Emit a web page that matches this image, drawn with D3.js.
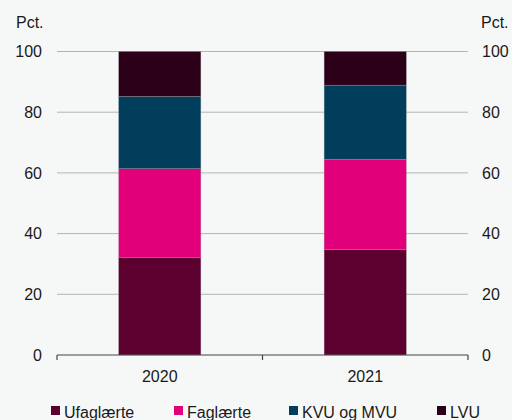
<!DOCTYPE html>
<html>
<head>
<meta charset="utf-8">
<script src="https://cdn.jsdelivr.net/npm/d3@7"></script>
<style>
  body { margin: 0; background: #f6f8f8; }
  text { font-family: "Liberation Sans", Arial, sans-serif; fill: #1a1a1a; }
</style>
</head>
<body>
<div id="chart"></div>
<script>
// data
var years = ["2020", "2021"];
var groups = ["Ufaglærte", "Faglærte", "KVU og MVU", "LVU"];
var ufaglaerte = [32.2, 34.7];
var faglaerte = [29.2, 29.8];
var kvuMvu = [23.8, 24.4];
var lvu = [14.8, 11.1];
var yTicks = [0, 20, 40, 60, 80, 100];
var colors = ["#5c0030", "#e2007a", "#003e5c", "#2c0019"];

var totalW = 512, totalH = 420;
var margin = {top: 51.5, right: 44, bottom: 65, left: 57},
    width = totalW - margin.left - margin.right,
    height = totalH - margin.top - margin.bottom;

var svg = d3.select("#chart").append("svg")
    .attr("width", totalW)
    .attr("height", totalH)
    .style("background-color", "#f6f8f8");

var g = svg.append("g")
    .attr("transform", "translate(" + margin.left + "," + margin.top + ")");

var x = d3.scaleBand().domain(years).range([0, width])
    .paddingInner(0.6).paddingOuter(0.3);
var y = d3.scaleLinear().domain([0, 100]).range([height, 0]);

// gridlines
g.selectAll(".grid")
  .data(yTicks.filter(function(d) { return d > 0; }))
  .enter().append("line")
    .attr("x1", 0).attr("x2", width)
    .attr("y1", function(d) { return y(d); })
    .attr("y2", function(d) { return y(d); })
    .attr("stroke", "#b4b4b4")
    .attr("stroke-width", 1);

// left and right tick labels
g.selectAll(".yl")
  .data(yTicks)
  .enter().append("text")
    .attr("x", -15)
    .attr("y", function(d) { return y(d); })
    .attr("dy", "0.35em")
    .attr("text-anchor", "end")
    .style("font-size", "16px")
    .text(function(d) { return d; });

g.selectAll(".yr")
  .data(yTicks)
  .enter().append("text")
    .attr("x", width + 14)
    .attr("y", function(d) { return y(d); })
    .attr("dy", "0.35em")
    .attr("text-anchor", "start")
    .style("font-size", "16px")
    .text(function(d) { return d; });

svg.append("text").attr("x", 16).attr("y", 28)
  .style("font-size", "16px").text("Pct.");
svg.append("text").attr("x", 481).attr("y", 28)
  .style("font-size", "16px").text("Pct.");

// stacked bars
var rows = years.map(function(yr, i) {
  return {year: yr, "Ufaglærte": ufaglaerte[i], "Faglærte": faglaerte[i],
          "KVU og MVU": kvuMvu[i], "LVU": lvu[i]};
});
var stack = d3.stack().keys(groups)(rows);

g.selectAll(".layer")
  .data(stack)
  .enter().append("g")
    .attr("fill", function(d, i) { return colors[i]; })
  .selectAll("rect")
  .data(function(d) { return d; })
  .enter().append("rect")
    .attr("x", function(d) { return x(d.data.year); })
    .attr("y", function(d) { return y(d[1]); })
    .attr("width", x.bandwidth())
    .attr("height", function(d) { return y(d[0]) - y(d[1]); })
    .attr("stroke", "rgba(160,160,160,0.5)")
    .attr("stroke-width", 0.6);

// x axis
var xAxis = g.append("g")
    .attr("transform", "translate(0," + height + ")");
xAxis.append("line")
    .attr("x1", 0).attr("x2", width)
    .attr("stroke", "#444").attr("stroke-width", 1.2);
var bounds = [0, width / 2, width];
xAxis.selectAll(".tk")
  .data(bounds)
  .enter().append("line")
    .attr("x1", function(d) { return d; })
    .attr("x2", function(d) { return d; })
    .attr("y1", 0).attr("y2", 5)
    .attr("stroke", "#444").attr("stroke-width", 1.2);
xAxis.selectAll(".xl")
  .data(years)
  .enter().append("text")
    .attr("x", function(d) { return x(d) + x.bandwidth() / 2; })
    .attr("y", 27)
    .attr("text-anchor", "middle")
    .style("font-size", "16px")
    .text(function(d) { return d; });

// legend
var legendX = [51, 174, 289, 437];
var legend = svg.selectAll(".lg")
  .data(groups)
  .enter().append("g")
    .attr("transform", function(d, i) { return "translate(" + legendX[i] + ",406)"; });
legend.append("rect")
    .attr("width", 9).attr("height", 9)
    .attr("fill", function(d, i) { return colors[i]; });
legend.append("text")
    .attr("x", 13).attr("y", 11.5)
    .style("font-size", "16px")
    .text(function(d) { return d; });
</script>
</body>
</html>
